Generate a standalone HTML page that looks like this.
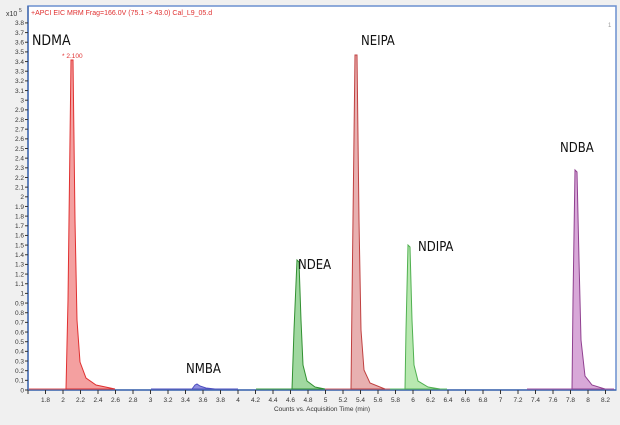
<!DOCTYPE html>
<html><head><meta charset="utf-8"><style>
body{margin:0;background:#f0f0f0;width:620px;height:420px;overflow:hidden;font-family:"Liberation Sans",sans-serif}
</style></head><body>
<svg width="620" height="420" xmlns="http://www.w3.org/2000/svg" font-family="Liberation Sans, sans-serif">
<rect x="0" y="0" width="620" height="420" fill="#f0f0f0"/>
<rect x="28" y="6" width="588" height="384" fill="#fff" stroke="#6a8fcf" stroke-width="1.5"/>
<text x="31" y="15" font-size="7" fill="#e03030">+APCI EIC MRM Frag=166.0V (75.1 -&gt; 43.0) Cal_L9_05.d</text>
<text x="608" y="27" font-size="6" fill="#999">1</text>
<text x="6" y="16" font-size="7" fill="#333">x10</text><text x="19" y="12" font-size="5" fill="#333">5</text>
<g font-size="6.5" fill="#333" text-anchor="end" id="yl"></g>
<g font-size="6.5" fill="#333" text-anchor="middle" id="xl"></g>
<line x1="28" y1="390" x2="616" y2="390" stroke="#4a6fb0" stroke-width="1.5"/>
<line x1="28" y1="6" x2="28" y2="390" stroke="#4a6fb0" stroke-width="1.5"/>
<text x="322" y="411" font-size="6.5" fill="#333" text-anchor="middle">Counts vs. Acquisition Time (min)</text>
<line x1="29" y1="389" x2="115" y2="389" stroke="#e05050"/>
<line x1="151" y1="389" x2="238" y2="389" stroke="#5050c0"/>
<line x1="256" y1="389" x2="330" y2="389" stroke="#40a040"/>
<line x1="316" y1="389" x2="395" y2="389" stroke="#d06060"/>
<line x1="390" y1="389" x2="447" y2="389" stroke="#60c060"/>
<line x1="527" y1="389" x2="614" y2="389" stroke="#a050a0"/>
<path d="M66,389 L68,300 L71,60 L73,60 L75,220 L77,320 L80,362 L86,378 L96,385 L115,389 Z" fill="#f4a0a0" stroke="#e03030" stroke-width="1"/>
<path d="M192,389 L195,385 L197,384 L200,386 L206,388 L215,389 Z" fill="#9090e0" stroke="#5050c0"/>
<path d="M292,389 L294,330 L297,260 L299,262 L301,320 L303,365 L307,381 L315,387 L325,389 Z" fill="#a0d8a0" stroke="#309030"/>
<path d="M351,389 L352,300 L355,55 L357,55 L359,220 L361,330 L364,370 L370,383 L385,389 Z" fill="#e8b0b0" stroke="#c04040"/>
<path d="M405,389 L406,330 L408,245 L410,247 L412,320 L414,365 L418,381 L428,387 L440,389 Z" fill="#b8e8b0" stroke="#50b050"/>
<path d="M572,389 L573,300 L575,170 L577,172 L579,260 L581,340 L585,376 L592,385 L605,389 Z" fill="#d8a8d8" stroke="#904090"/>
<g font-size="14" fill="#111" font-family="DejaVu Sans Condensed, Liberation Sans Narrow, Liberation Sans, sans-serif">
<text x="32" y="45" font-size="14">NDMA</text>
<text x="186" y="373" font-size="13">NMBA</text>
<text x="298" y="269" font-size="13">NDEA</text>
<text x="361" y="45" font-size="13">NEIPA</text>
<text x="418" y="251" font-size="13">NDIPA</text>
<text x="560" y="152" font-size="13">NDBA</text>
</g>
<text x="62" y="58" font-size="6.5" fill="#e03030">* 2.100</text>
<script>
var ns="http://www.w3.org/2000/svg",yl=document.getElementById("yl"),xl=document.getElementById("xl"),s=document.querySelector("svg");
for(var i=0;i<=38;i++){var y=390-i*9.66;var t=document.createElementNS(ns,"text");t.setAttribute("x",24);t.setAttribute("y",y+2.3);var v=(i/10);t.textContent=(i%10==0)?String(i/10):v.toFixed(1);yl.appendChild(t);
var l=document.createElementNS(ns,"line");l.setAttribute("x1",25);l.setAttribute("x2",28);l.setAttribute("y1",y);l.setAttribute("y2",y);l.setAttribute("stroke","#333");s.appendChild(l);}
for(var k=0;k<=33;k++){var tv=1.6+k*0.2;var x=63+(tv-2)*87.5;var l2=document.createElementNS(ns,"line");l2.setAttribute("x1",x);l2.setAttribute("x2",x);l2.setAttribute("y1",390);l2.setAttribute("y2",394);l2.setAttribute("stroke","#333");s.appendChild(l2);
if(k==0)continue;var t2=document.createElementNS(ns,"text");t2.setAttribute("x",x);t2.setAttribute("y",402);var r=Math.round(tv*10)/10;t2.textContent=String(r);xl.appendChild(t2);}
</script>
</svg>
</body></html>
